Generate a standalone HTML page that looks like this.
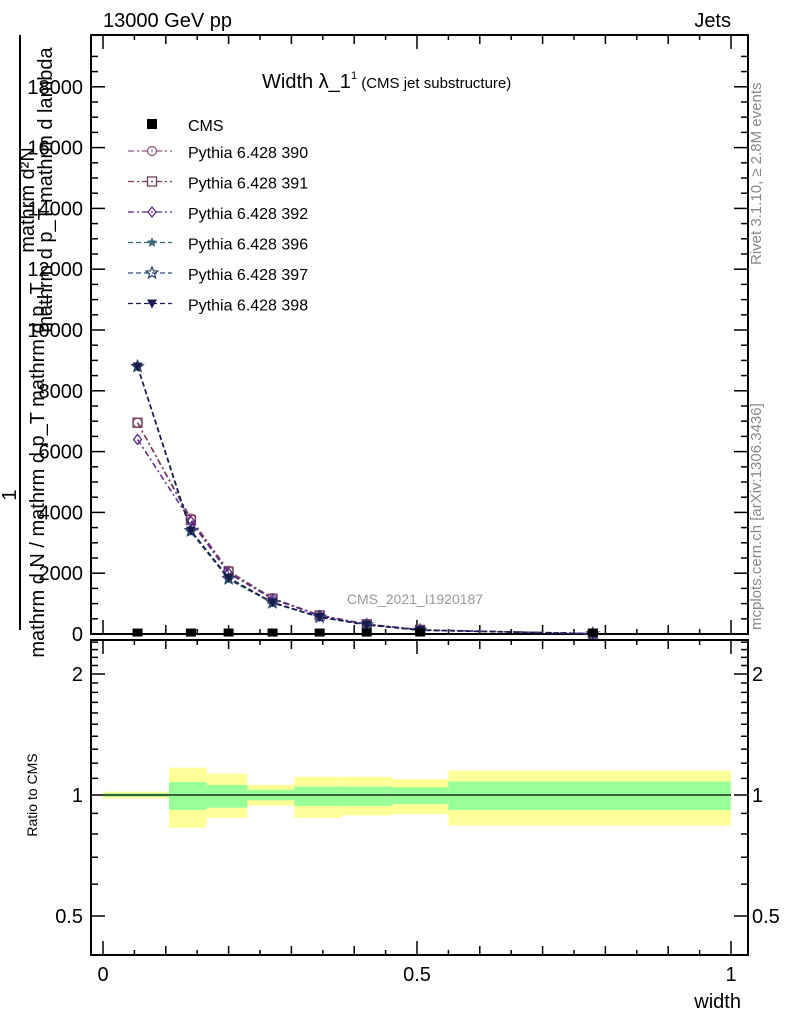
<!DOCTYPE html>
<html><head><meta charset="utf-8"><style>
body{margin:0;background:#fff}
svg{display:block;font-family:"Liberation Sans",sans-serif}
</style></head><body>
<svg id="c" width="786" height="1024" viewBox="0 0 786 1024" xmlns="http://www.w3.org/2000/svg">
<text x="103" y="27" font-size="20">13000 GeV pp</text>
<text x="731" y="27" font-size="20" text-anchor="end">Jets</text>
<text x="262" y="88" font-size="20">Width λ_1<tspan font-size="11" dy="-9">1</tspan><tspan font-size="15" dy="9"> (CMS jet substructure)</tspan></text>
<text x="761" y="265" font-size="15" fill="#888" transform="rotate(-90 761 265)">Rivet 3.1.10, ≥ 2.8M events</text>
<text x="761" y="630" font-size="15" fill="#888" transform="rotate(-90 761 630)">mcplots.cern.ch [arXiv:1306.3436]</text>
<text x="415" y="604" font-size="14" fill="#999" text-anchor="middle">CMS_2021_I1920187</text>
<g font-size="20">
<text transform="translate(34,200) rotate(-90)" text-anchor="middle">mathrm d²N</text>
<text transform="translate(52,190) rotate(-90)" text-anchor="middle">mathrm d p_T mathrm d lambda</text>
<line x1="20" y1="35" x2="20" y2="630" stroke="#000" stroke-width="2"/>
<text transform="translate(16,495) rotate(-90)" text-anchor="middle">1</text>
<text transform="translate(44,470) rotate(-90)" text-anchor="middle">mathrm d N / mathrm d p_T mathrm d p_T</text>
</g>
<text transform="translate(37,795) rotate(-90)" font-size="14" text-anchor="middle">Ratio to CMS</text>
<text x="741" y="1008" font-size="20" text-anchor="end">width</text>
<g id="main"></g><g id="ratio"></g>
</svg>
<script>
const xVals=[0.055,0.14,0.2,0.27,0.345,0.42,0.505,0.78];
const cms=[15,15,15,15,15,15,15,15];
const p390=[6950,3800,2080,1180,620,330,140,12];
const p391=[6950,3750,2050,1160,610,320,135,12];
const p392=[6400,3700,2000,1150,600,320,135,12];
const p396=[8800,3350,1800,1020,550,300,125,10];
const p397=[8800,3400,1820,1030,555,300,125,10];
const p398=[8800,3400,1850,1040,560,305,128,10];
const yTicks=[0,2000,4000,6000,8000,10000,12000,14000,16000,18000];
const binEdges=[0,0.105,0.165,0.23,0.305,0.38,0.46,0.55,1.0];
const yellowHi=[1.02,1.17,1.13,1.06,1.11,1.11,1.095,1.15];
const yellowLo=[0.98,0.83,0.877,0.94,0.877,0.89,0.897,0.84];
const greenHi=[1.01,1.077,1.06,1.03,1.05,1.05,1.045,1.08];
const greenLo=[0.99,0.918,0.93,0.97,0.94,0.94,0.95,0.918];
const ratioTicks=[0.5,1,2];
const xTicks=[0,0.5,1];
const NS="http://www.w3.org/2000/svg";
const L=91,R=748,T=35,B=634,RT=640,RB=955;
const X=v=>103+v*628;
const Y=v=>634-v*0.0304;
const RY=r=>795-121*Math.log2(r);
function mk(t,a,p){const e=document.createElementNS(NS,t);for(const k in a)e.setAttribute(k,a[k]);p.appendChild(e);return e;}
const main=document.getElementById('main'),ratio=document.getElementById('ratio');
for(let i=0;i<binEdges.length-1;i++){
 const x0=X(binEdges[i]),x1=X(binEdges[i+1]);
 const y=mk('rect',{x:x0,y:RY(yellowHi[i]),width:x1-x0,height:RY(yellowLo[i])-RY(yellowHi[i]),fill:'#ffff99'},ratio);
 
 
 const g=mk('rect',{x:x0,y:RY(greenHi[i]),width:x1-x0,height:RY(greenLo[i])-RY(greenHi[i]),fill:'#99ff99'},ratio);
 
 
}
const rl=mk('line',{x1:X(0),x2:X(1),y1:RY(1),y2:RY(1),stroke:'#000','stroke-width':1.2},ratio);


for(const [t,b,nm] of [[T,B,'main-frame'],[RT,RB,'ratio-frame']]){
 const f=mk('rect',{x:L,y:t,width:R-L,height:b-t,fill:'none',stroke:'#000','stroke-width':2},main);
 
 
}
for(let v=0;v<=19000;v+=500){const y=Y(v);if(y<T)break;const big=v%2000===0;
 mk('line',{x1:L,x2:L+(big?14:7),y1:y,y2:y,stroke:'#000','stroke-width':1.5},main);
 mk('line',{x1:R,x2:R-(big?14:7),y1:y,y2:y,stroke:'#000','stroke-width':1.5},main);}
yTicks.forEach(v=>{const t=mk('text',{x:83,y:Y(v)+7,'font-size':20,'text-anchor':'end'},main);t.textContent=v;
 
 });
for(let v=0;v<=1.0001;v+=0.05){const x=X(v);const big=Math.abs(v*2-Math.round(v*2))<1e-6;const md=Math.abs(v*10-Math.round(v*10))<1e-6;
 const h=big?14:(md?9:5);
 for(const yb of [B,RB]){mk('line',{x1:x,x2:x,y1:yb,y2:yb-h,stroke:'#000','stroke-width':1.5},main);}
 mk('line',{x1:x,x2:x,y1:T,y2:T+h,stroke:'#000','stroke-width':1.5},main);
 mk('line',{x1:x,x2:x,y1:RT,y2:RT+h,stroke:'#000','stroke-width':1.5},main);}
xTicks.forEach(v=>{const t=mk('text',{x:X(v),y:981,'font-size':20,'text-anchor':'middle'},main);t.textContent=v;
 
 });
for(let r=0.4;r<=2.5;r+=0.1){const y=RY(r);if(y<RT||y>RB)continue;const big=ratioTicks.some(t=>Math.abs(t-r)<1e-6);
 mk('line',{x1:L,x2:L+(big?14:7),y1:y,y2:y,stroke:'#000','stroke-width':1.5},main);
 mk('line',{x1:R,x2:R-(big?14:7),y1:y,y2:y,stroke:'#000','stroke-width':1.5},main);}
ratioTicks.forEach(v=>{for(const [x,a] of [[83,'end'],[752,'start']]){const t=mk('text',{x:x,y:RY(v)+7,'font-size':20,'text-anchor':a},main);t.textContent=v;
 
 }});
const series=[
 {d:p390,c:'#8a5a80',dash:'6,3,2,3',m:'circle',nm:'Pythia 6.428 390'},
 {d:p391,c:'#7a3a5a',dash:'6,3,2,3',m:'square',nm:'Pythia 6.428 391'},
 {d:p392,c:'#5a2a90',dash:'6,3,2,3',m:'diamond',nm:'Pythia 6.428 392'},
 {d:p396,c:'#3a6a7a',dash:'5,3',m:'starf',nm:'Pythia 6.428 396'},
 {d:p397,c:'#2a4a70',dash:'5,3',m:'star',nm:'Pythia 6.428 397'},
 {d:p398,c:'#1a1a50',dash:'5,3',m:'tri',nm:'Pythia 6.428 398'}];
function starPts(cx,cy,r){let p=[];for(let i=0;i<10;i++){const a=-Math.PI/2+i*Math.PI/5;const rr=i%2?r*0.45:r;p.push((cx+rr*Math.cos(a)).toFixed(1)+','+(cy+rr*Math.sin(a)).toFixed(1));}return p.join(' ');}
function marker(m,x,y,c,p){
 if(m==='circle')return mk('circle',{cx:x,cy:y,r:4.5,fill:'none',stroke:c,'stroke-width':1.3},p);
 if(m==='square')return mk('rect',{x:x-4.5,y:y-4.5,width:9,height:9,fill:'none',stroke:c,'stroke-width':1.3},p);
 if(m==='diamond')return mk('polygon',{points:`${x},${y-5} ${x+4},${y} ${x},${y+5} ${x-4},${y}`,fill:'none',stroke:c,'stroke-width':1.3},p);
 if(m==='starf')return mk('polygon',{points:starPts(x,y,5.5),fill:c},p);
 if(m==='star')return mk('polygon',{points:starPts(x,y,6),fill:'none',stroke:c,'stroke-width':1.3},p);
 return mk('polygon',{points:`${x-5},${y-4} ${x+5},${y-4} ${x},${y+5}`,fill:c},p);}
series.forEach((s,k)=>{
 const pl=mk('polyline',{points:s.d.map((v,i)=>X(xVals[i])+','+Y(v)).join(' '),fill:'none',stroke:s.c,'stroke-width':1.5,'stroke-dasharray':s.dash},main);
 
 
 s.d.forEach((v,i)=>{const m=marker(s.m,X(xVals[i]),Y(v),s.c,main);
  
  });
 const ly=151+k*30.5;
 const ll=mk('line',{x1:128,x2:172,y1:ly,y2:ly,stroke:s.c,'stroke-width':1.2,'stroke-dasharray':s.dash},main);
 
 
 marker(s.m,152,ly,s.c,main);
 const t=mk('text',{x:188,y:ly+7,'font-size':16},main);t.textContent=s.nm;
 
 
});
cms.forEach((v,i)=>{const r=mk('rect',{x:X(xVals[i])-5,y:Y(v)-5,width:10,height:8,fill:'#000'},main);
 
 });
const lr=mk('rect',{x:147,y:119,width:10,height:10,fill:'#000'},main);


const lt=mk('text',{x:188,y:131,'font-size':16},main);lt.textContent='CMS';


</script>
</body></html>
